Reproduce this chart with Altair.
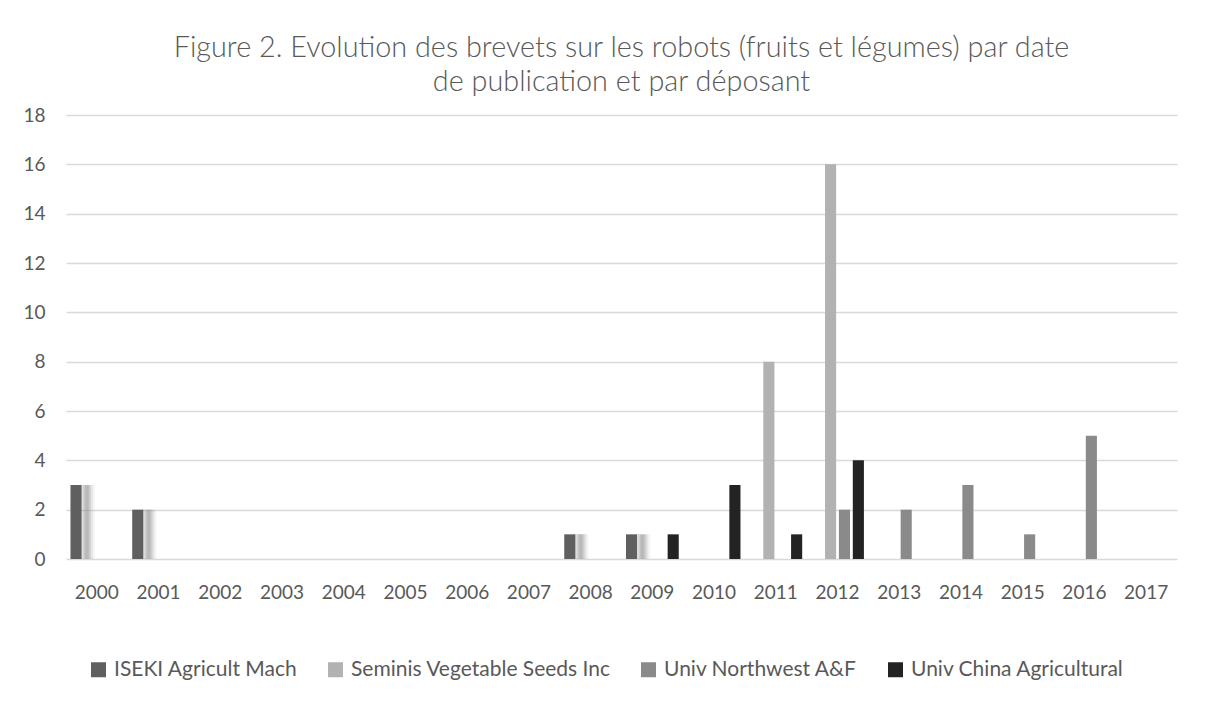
import altair as alt
import pandas as pd

years = ["2000", "2001", "2002", "2003", "2004", "2005", "2006", "2007", "2008",
         "2009", "2010", "2011", "2012", "2013", "2014", "2015", "2016", "2017"]
series = ["ISEKI Agricult Mach", "Seminis Vegetable Seeds Inc",
          "Univ Northwest A&F", "Univ China Agricultural"]
colors = ["#5f5f5f", "#b2b2b2", "#8a8a8a", "#232323"]

iseki = [3, 2, 0, 0, 0, 0, 0, 0, 1, 1, 0, 0, 0, 0, 0, 0, 0, 0]
seminis = [0, 0, 0, 0, 0, 0, 0, 0, 0, 0, 0, 8, 16, 0, 0, 0, 0, 0]
northwest = [0, 0, 0, 0, 0, 0, 0, 0, 0, 0, 0, 0, 2, 2, 3, 1, 5, 0]
china = [0, 0, 0, 0, 0, 0, 0, 0, 0, 1, 3, 1, 4, 0, 0, 0, 0, 0]

rows = []
for name, vals in zip(series, [iseki, seminis, northwest, china]):
    for y, v in zip(years, vals):
        rows.append({"year": y, "series": name, "value": v})
df = pd.DataFrame(rows)
df_nz = df[df["value"] > 0]
df_shadow = df_nz[df_nz["series"] == series[0]]

FONT = "Lato"
TXT = "#595959"

x_enc = alt.X("year:N", sort=years, scale=alt.Scale(domain=years, paddingInner=0.1, paddingOuter=0.05),
              axis=alt.Axis(title=None, labelAngle=0, domain=False, ticks=False, labelPadding=24,
                            labelFontSize=19, labelColor=TXT, labelFont=FONT, grid=False))
y_enc = alt.Y("value:Q", scale=alt.Scale(domain=[0, 18]),
              axis=alt.Axis(title=None, values=list(range(0, 19, 2)), domain=False, ticks=False,
                            labelPadding=21, labelFontSize=19, labelColor=TXT, labelFont=FONT,
                            grid=True, gridColor="#d9d9d9", gridWidth=1.5))

base = alt.Chart(df_shadow)
shadows = []
for w, op in [(16, 0.08), (12, 0.15), (8, 0.25), (4, 0.3)]:
    shadows.append(base.mark_bar(width=w, xOffset=-10, color="#8c8c8c", opacity=op).encode(
        x=x_enc, y=y_enc))

bars = alt.Chart(df_nz).mark_bar().encode(
    x=x_enc,
    y=y_enc,
    xOffset=alt.XOffset("series:N", sort=series,
                        scale=alt.Scale(domain=series, paddingInner=0.2, paddingOuter=0.1)),
    color=alt.Color("series:N", sort=series,
                    scale=alt.Scale(domain=series, range=colors),
                    legend=alt.Legend(title=None, orient="none", direction="horizontal",
                                      legendX=22, legendY=544, symbolType="square",
                                      symbolSize=225, symbolStrokeWidth=0, labelLimit=0,
                                      labelFontSize=21, labelFont=FONT, labelColor=TXT,
                                      columnPadding=27, labelOffset=5)),
)

chart = alt.layer(*shadows, bars).properties(
    width=1111,
    height=444,
    background="white",
    autosize=alt.AutoSizeParams(type="none"),
    padding={"left": 58, "top": 107, "right": 20, "bottom": 130},
    title=alt.TitleParams(
        text=["Figure 2. Evolution des brevets sur les robots (fruits et légumes) par date",
              "de publication et par déposant"],
        font=FONT, fontWeight=300, fontSize=28.8, color=TXT, anchor="middle",
        lineHeight=34, offset=9),
).configure_view(strokeWidth=0, stroke="transparent")

chart.save("out.html", embed_options={"renderer": "svg", "actions": False})
